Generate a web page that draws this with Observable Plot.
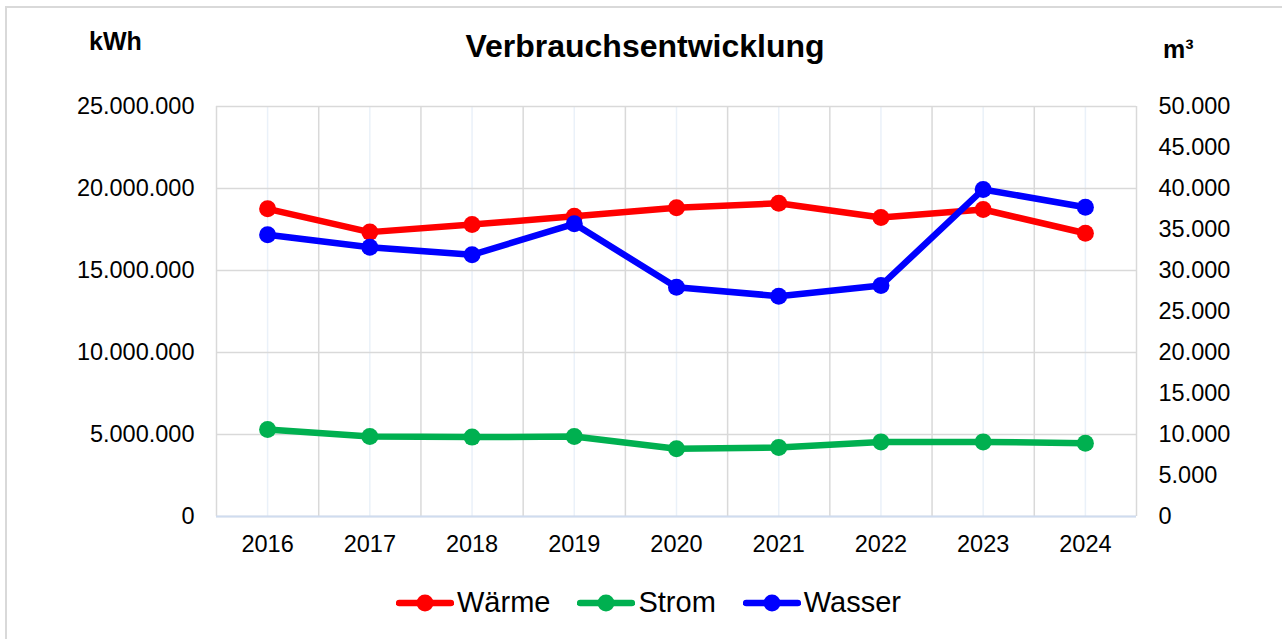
<!DOCTYPE html>
<html>
<head>
<meta charset="utf-8">
<script src="https://cdn.jsdelivr.net/npm/d3@7"></script>
<script src="https://cdn.jsdelivr.net/npm/@observablehq/plot@0.6"></script>
<style>
  html, body { margin: 0; padding: 0; background: #fff; }
  #wrap { position: relative; width: 1282px; height: 639px; overflow: hidden; font-family: "Liberation Sans", Arial, sans-serif; color: #000; }
  #frame { position: absolute; left: 5px; top: 6px; width: 1400px; height: 800px; border: 2px solid #d9d9d9; box-sizing: border-box; }
  #chart { position: absolute; left: 0; top: 0; }
  .lbl { position: absolute; line-height: 1; white-space: nowrap; }
  #title { left: 0; width: 1290px; top: 30px; text-align: center; font-size: 32px; font-weight: bold; }
  #unitL { left: 89px; top: 29px; font-size: 25px; font-weight: bold; }
  #unitR { left: 1163px; top: 37px; font-size: 25px; font-weight: bold; }
  #legend { position: absolute; left: 396px; top: 588px; height: 29px; display: flex; align-items: center; gap: 27px; font-size: 29px; line-height: 1; }
  .item { display: flex; align-items: center; gap: 3px; }
</style>
</head>
<body>
<div id="wrap">
  <div id="frame"></div>
  <div id="chart"></div>
  <div class="lbl" id="title">Verbrauchsentwicklung</div>
  <div class="lbl" id="unitL">kWh</div>
  <div class="lbl" id="unitR">m³</div>
  <div id="legend"></div>
</div>
<script>
// ---- data ----
const years = [2016, 2017, 2018, 2019, 2020, 2021, 2022, 2023, 2024];
const waerme = [18760000, 17340000, 17800000, 18310000, 18820000, 19100000, 18230000, 18720000, 17270000]; // kWh
const strom  = [5300000, 4880000, 4840000, 4880000, 4130000, 4210000, 4550000, 4550000, 4470000];         // kWh
const wasser = [34350, 32840, 31910, 35690, 27960, 26870, 28170, 39880, 37720];                          // m³
const leftTicks  = [0, 5000000, 10000000, 15000000, 20000000, 25000000];
const rightTicks = [0, 5000, 10000, 15000, 20000, 25000, 30000, 35000, 40000, 45000, 50000];
const seriesNames = ["Wärme", "Strom", "Wasser"];
const seriesColors = ["#ff0000", "#00b050", "#0000ff"];

// ---- build ----
const ratio = 25000000 / 50000; // left-axis units per m³
const locale = d3.formatLocale({decimal: ",", thousands: ".", grouping: [3], currency: ["", " €"]});
const fmt = locale.format(",d");

const rows = (vals, scale) => years.map((y, i) => ({year: y, v: vals[i] * scale}));
const seriesData = [rows(waerme, 1), rows(strom, 1), rows(wasser, ratio)];
const bounds = years.map(y => y - 0.5).concat([years[years.length - 1] + 0.5]);

const seriesMarks = seriesData.flatMap((d, i) => [
  Plot.line(d, {x: "year", y: "v", stroke: seriesColors[i], strokeWidth: 6.5, strokeLinejoin: "round", strokeLinecap: "round"}),
  Plot.dot(d, {x: "year", y: "v", fill: seriesColors[i], r: 8.5, stroke: "none"})
]);

const chart = Plot.plot({
  width: 1282,
  height: 639,
  marginLeft: 216,
  marginRight: 146,
  marginTop: 106,
  marginBottom: 123,
  style: {fontFamily: '"Liberation Sans", Arial, sans-serif', fontSize: "23.5px", color: "#000", background: "transparent", overflow: "visible"},
  x: {domain: [bounds[0], bounds[bounds.length - 1]], label: null},
  y: {domain: [0, 25000000], label: null},
  marks: [
    Plot.ruleX(years, {stroke: "#eaf1f9", strokeWidth: 1.5}),
    Plot.ruleX(bounds, {stroke: "#d9d9d9", strokeWidth: 1.5}),
    Plot.ruleY(leftTicks, {stroke: "#d9d9d9", strokeWidth: 1.5}),
    Plot.ruleY([0], {stroke: "#cfdcef", strokeWidth: 2}),
    Plot.axisY({ticks: leftTicks, tickSize: 0, tickPadding: 22, tickFormat: fmt, label: null}),
    Plot.axisY({anchor: "right", ticks: rightTicks.map(t => t * ratio), tickSize: 0, tickPadding: 22, tickFormat: d => fmt(Math.round(d / ratio)), label: null}),
    Plot.axisX({ticks: years, tickSize: 0, tickPadding: 19, tickFormat: d => String(d), label: null}),
    ...seriesMarks
  ]
});
document.getElementById("chart").appendChild(chart);

// ---- legend ----
const legend = document.getElementById("legend");
seriesNames.forEach((name, i) => {
  const item = document.createElement("div");
  item.className = "item";
  item.innerHTML = `<svg width="58" height="22" viewBox="0 0 58 22"><line x1="3" y1="11" x2="55" y2="11" stroke="${seriesColors[i]}" stroke-width="6.5" stroke-linecap="round"/><circle cx="29" cy="11" r="8.5" fill="${seriesColors[i]}"/></svg><span>${name}</span>`;
  legend.appendChild(item);
});
</script>
</body>
</html>
